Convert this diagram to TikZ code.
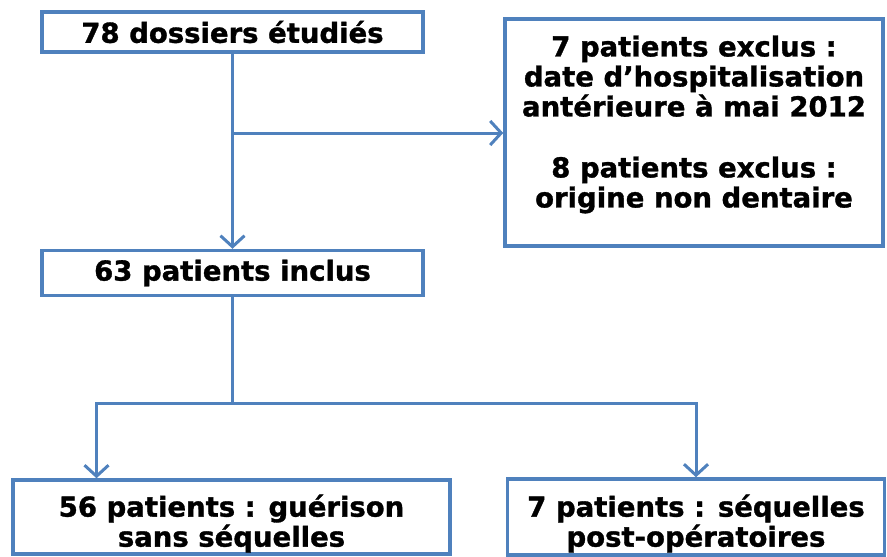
\documentclass[tikz,border=0pt]{standalone}
\usepackage{fontspec}
\setmainfont{DejaVu Sans}[BoldFeatures={FakeBold=1.2}]
\usetikzlibrary{positioning,arrows.meta}
\definecolor{boxblue}{HTML}{4F81BD}

\begin{document}
\begin{tikzpicture}[x=1pt, y=-1pt, node distance=195pt,
  every node/.style={draw=boxblue, line width=3.5pt, rectangle, align=center, inner sep=0pt,
    font=\bfseries\fontsize{27.5}{30}\selectfont},
  flow/.style={draw=boxblue, line width=3pt, -{Straight Barb[length=11pt,width=24pt]}}]
\useasboundingbox (0,0) rectangle (887,557);
\node (dos) [minimum width=381pt, minimum height=40pt] at (232.5,32) {78 dossiers étudiés};
\node (incl) [below=of dos, minimum width=381pt, minimum height=45pt] {63 patients inclus};
\node (excl) [minimum width=378pt, minimum height=227pt] at (694,132.5)
  {7 patients exclus :\\date d’hospitalisation\\antérieure à mai 2012\\[31pt]8 patients exclus :\\origine non dentaire\\[-8pt]~};
\node (guer) [minimum width=437pt, minimum height=74pt] at (231.5,517)
  {\rule{0pt}{35pt}56 patients : guérison\\sans séquelles};
\node (seq) [right=54pt of guer, minimum width=377pt, minimum height=76pt]
  {\rule{0pt}{35pt}7 patients : séquelles\\post-opératoires};

\coordinate (br) at (232.5,133);
\coordinate (split) at (232.5,403);

\draw[flow] (dos) -- (incl);
\draw[flow] (br) -- (br -| excl.west);
\draw[flow, -] (incl) -- (split);
\draw[flow] (split) -| ([xshift=-135pt]guer.north);
\draw[flow] (split) -| (seq.north);
\end{tikzpicture}
\end{document}
